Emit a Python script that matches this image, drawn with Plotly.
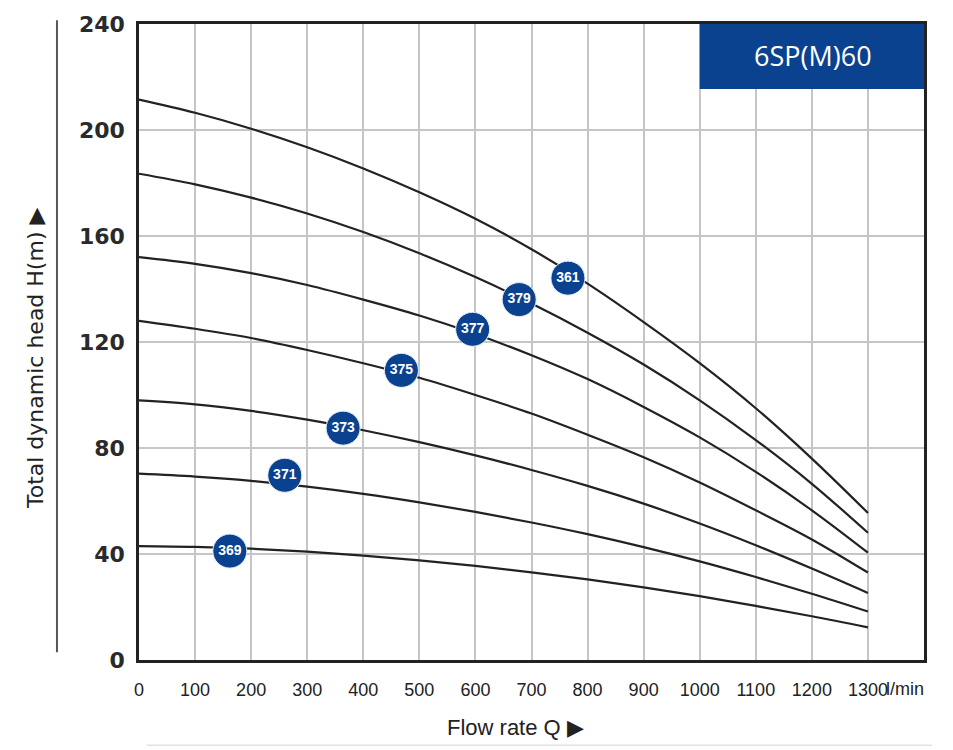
import plotly.graph_objects as go

# ---- data ----
flow = [0, 100, 200, 300, 400, 500, 600, 700, 800, 900, 1000, 1100, 1200, 1300]
head_361 = [211.5, 206.5, 200.5, 193.5, 185.5, 176.5, 166.5, 155, 142, 127.5, 112, 95, 76, 55.5]
head_379 = [183.5, 179.5, 174.5, 168.5, 161.5, 153.5, 144.5, 134.5, 123.5, 111.5, 98, 83, 66.5, 48]
head_377 = [152, 149.5, 146, 141.5, 136, 130, 123, 115, 106, 95.5, 84, 71, 56.5, 40.5]
head_375 = [128, 125, 121.5, 117, 112, 106.5, 100, 93, 85, 76.5, 67, 56.5, 45.5, 33]
head_373 = [98, 96.5, 94, 90.7, 86.7, 82.2, 77.2, 71.7, 65.7, 59, 51.5, 43.3, 34.5, 25.3]
head_371 = [70.3, 69.2, 67.6, 65.4, 62.7, 59.5, 55.9, 51.9, 47.5, 42.6, 37.2, 31.3, 25, 18.3]
head_369 = [43, 42.7, 42, 40.9, 39.4, 37.6, 35.5, 33.1, 30.4, 27.4, 24.1, 20.4, 16.5, 12.3]
curves = [head_361, head_379, head_377, head_375, head_373, head_371, head_369]

label_names = ["369", "371", "373", "375", "377", "379", "361"]
label_flow = [162, 260, 364, 468, 595, 678, 765]
label_head = [41.1, 69.7, 87.5, 109.3, 124.8, 136, 144.1]

x_ticks = list(range(0, 1400, 100))
y_ticks = list(range(0, 241, 40))
title_text = "6SP(M)60"

BLUE = "#0b4290"
NARROW = "Liberation Sans Narrow, Liberation Sans, Arial"

fig = go.Figure()
for h in curves:
    fig.add_trace(go.Scatter(x=flow, y=h, mode="lines",
                             line=dict(color="#222222", width=2.2, shape="spline", smoothing=1.0),
                             hoverinfo="skip", showlegend=False))

fig.add_trace(go.Scatter(x=label_flow, y=label_head, mode="markers+text",
                         text=label_names, textposition="middle center",
                         textfont=dict(color="white", size=14, family=NARROW, weight="bold"),
                         marker=dict(size=34, color=BLUE, line=dict(color="#e3ecf7", width=1)),
                         hoverinfo="skip", showlegend=False))

# title box
fig.add_shape(type="rect", xref="x", yref="y", x0=1000, x1=1405, y0=215.5, y1=240.5,
              fillcolor=BLUE, line=dict(width=0), layer="above")
fig.add_annotation(x=1202, y=228, xref="x", yref="y", text=title_text, showarrow=False,
                   font=dict(color="white", size=27, family="Open Sans, Noto Sans, sans-serif"))

# "l/min" after the last tick
fig.add_annotation(x=1300, y=0, xref="x", yref="paper", text="l/min", showarrow=False,
                   xanchor="left", yanchor="middle", xshift=16, yshift=-29,
                   font=dict(color="#222222", size=18, family=NARROW))

# axis titles as annotations
fig.add_annotation(x=0.5, y=0, xref="paper", yref="paper", text="Flow rate Q ▶", showarrow=False,
                   xshift=-16, yshift=-67, yanchor="middle",
                   font=dict(color="#222222", size=22, family="Liberation Sans, Arial"))
fig.add_annotation(x=0, y=0.5, xref="paper", yref="paper", text="Total dynamic head H(m) ▶", showarrow=False,
                   textangle=-90, xanchor="center", xshift=-104, yshift=-17,
                   font=dict(color="#222222", size=22, family="DejaVu Sans, Liberation Sans"))

# vertical decorative line beside y title
fig.add_shape(type="line", xref="paper", yref="paper", x0=-0.1045, x1=-0.1045, y0=0.012, y1=1.006,
              line=dict(color="#555555", width=2))
# faint bottom line
fig.add_shape(type="line", xref="paper", yref="paper", x0=0.01, x1=1.01, y0=-0.134, y1=-0.134,
              line=dict(color="#e2e2e2", width=1.5))

fig.update_xaxes(range=[0, 1400], tickvals=x_ticks, ticktext=[str(v) for v in x_ticks],
                 showgrid=True, gridcolor="#c6c6c6", gridwidth=1.5,
                 showline=True, linecolor="#222222", linewidth=2.5, mirror=True,
                 zeroline=False, ticks="", ticklabelstandoff=12,
                 tickfont=dict(size=18, color="#222222", family=NARROW))
fig.update_yaxes(range=[0, 240], tickvals=y_ticks,
                 showgrid=True, gridcolor="#c6c6c6", gridwidth=1.5,
                 showline=True, linecolor="#222222", linewidth=2.5, mirror=True,
                 zeroline=False, ticks="", ticklabelstandoff=7,
                 tickfont=dict(size=22, color="#2a2a2a", family="DejaVu Sans", weight="bold"))

fig.update_layout(width=953, height=750, margin=dict(l=139, r=29, t=16, b=90),
                  plot_bgcolor="white", paper_bgcolor="white", showlegend=False,
                  hovermode=False)

fig.write_html("out.html", config={"displayModeBar": False},
               post_script="document.body.style.margin='0';document.body.style.overflow='hidden';")
